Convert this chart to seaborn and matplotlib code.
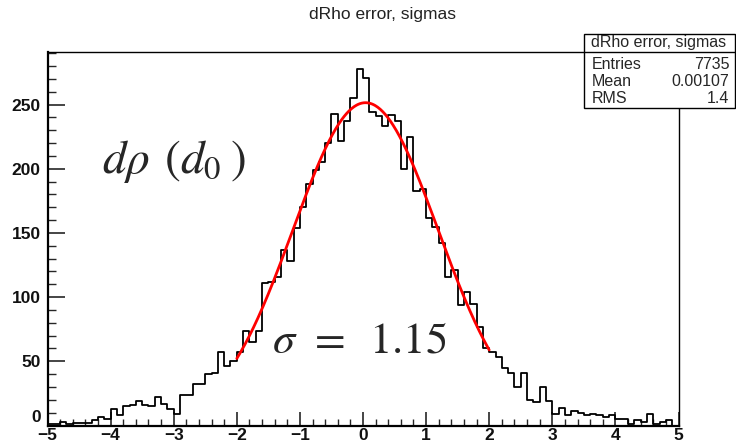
import numpy as np
import pandas as pd
import matplotlib
matplotlib.use("Agg")
import matplotlib.pyplot as plt
import seaborn as sns
from matplotlib.patches import Rectangle
from matplotlib.lines import Line2D
from matplotlib.ticker import MultipleLocator

# ---- data ----
bin_lo = -5.0
bin_hi = 5.0
bin_width = 0.1
counts = [
    1, 1, 3, 1, 2, 2, 2, 4, 7, 5,
    13, 8, 15, 16, 19, 16, 15, 22, 17, 13,
    9, 24, 24, 32, 32, 40, 41, 57, 46, 50,
    57, 74, 65, 74, 111, 112, 116, 137, 128, 154,
    170, 188, 199, 205, 220, 243, 222, 237, 255, 278,
    271, 244, 241, 233, 242, 237, 200, 225, 183, 184,
    162, 155, 142, 116, 121, 94, 104, 95, 77, 60,
    57, 53, 45, 41, 30, 41, 20, 18, 30, 19,
    9, 14, 8, 11, 10, 8, 9, 8, 7, 8,
    5, 5, 1, 4, 3, 9, 1, 3, 4, 0,
]
# Gaussian fit shown in red (fit range -2..2)
fit_amp = 251.5
fit_mean = 0.04
fit_sigma = 1.15
fit_range = (-2.0, 2.0)

title = "dRho error, sigmas"
stats_labels = ["Entries", "Mean", "RMS"]
stats_values = ["7735", "0.00107", "1.4"]
x_ticks = [-5, -4, -3, -2, -1, 0, 1, 2, 3, 4, 5]
y_ticks = [0, 50, 100, 150, 200, 250]

# ---- build table ----
n_bins = len(counts)
centers = bin_lo + bin_width * (np.arange(n_bins) + 0.5)
df = pd.DataFrame({"x": centers, "n": np.asarray(counts, dtype=float)})
xs = np.linspace(fit_range[0], fit_range[1], 300)
fit_df = pd.DataFrame({"x": xs,
                       "y": fit_amp * np.exp(-0.5 * ((xs - fit_mean) / fit_sigma) ** 2)})

sns.set_style("white")
plt.rcParams["font.family"] = ["Liberation Sans", "DejaVu Sans"]
plt.rcParams["mathtext.fontset"] = "stix"

W, H = 736, 446
fig = plt.figure(figsize=(W / 100, H / 100), dpi=100)
fig.patch.set_facecolor("white")
ax_l, ax_r, ax_t, ax_b = 47.5, 678.5, 52, 425.5
ax = fig.add_axes([ax_l / W, 1 - ax_b / H, (ax_r - ax_l) / W, (ax_b - ax_t) / H])

sns.histplot(data=df, x="x", weights="n", binwidth=bin_width, binrange=(bin_lo, bin_hi),
             element="step", fill=False, color="black", linewidth=1.3, ax=ax)
sns.lineplot(data=fit_df, x="x", y="y", color="#ff0000", linewidth=2.0, ax=ax)

ax.set_xlim(-5, 5)
ax.set_ylim(0, 291)
ax.set_xlabel("")
ax.set_ylabel("")
ax.set_xticks(x_ticks)
ax.set_yticks(y_ticks)
ax.set_xticklabels([("\u2212%d" % -t if t < 0 else "%d" % t) for t in x_ticks])
ax.set_yticklabels(["%d" % t for t in y_ticks])
ax.xaxis.set_minor_locator(MultipleLocator(0.2))
ax.yaxis.set_minor_locator(MultipleLocator(10))
ax.tick_params(axis="x", which="major", direction="in", length=10, width=1.2,
               labelsize=12.5, pad=2, bottom=True, top=False)
ax.tick_params(axis="x", which="minor", direction="in", length=5, width=1.0,
               bottom=True, top=False)
ax.tick_params(axis="y", which="major", direction="in", length=12, width=1.2,
               labelsize=12.5, pad=5, left=True, right=False)
ax.tick_params(axis="y", which="minor", direction="in", length=6, width=1.0,
               left=True, right=False)
for lab in ax.get_xticklabels() + ax.get_yticklabels():
    lab.set_fontweight("bold")
    lab.set_color("#111111")
# ROOT lifts the "0" label of the y axis above the x labels
ax.get_yticklabels()[0].set_verticalalignment("bottom")

for s in ["left", "bottom"]:
    ax.spines[s].set_linewidth(1.6)
    ax.spines[s].set_color("black")
for s in ["top", "right"]:
    ax.spines[s].set_linewidth(1.0)
    ax.spines[s].set_color("black")

ax.text(-4.13, 197, r"$d\rho\;\,(d_0\:)$", fontsize=34, ha="left", va="baseline")
ax.text(-1.44, 57, r"$\sigma\;\,=\;\;1.15$", fontsize=32, ha="left", va="baseline")

fig.text(383 / W, 1 - 14 / H, title, ha="center", va="center", fontsize=12.5, color="#222222")

# stats box
bx0, bx1, by0, by1, bdiv = 583.5, 734.5, 34, 108, 51.5
fig.patches.append(Rectangle((bx0 / W, 1 - by1 / H), (bx1 - bx0) / W, (by1 - by0) / H,
                             transform=fig.transFigure, facecolor="white",
                             edgecolor="black", linewidth=1.0, zorder=5))
fig.lines.append(Line2D([bx0 / W, bx1 / W], [1 - bdiv / H, 1 - bdiv / H],
                        transform=fig.transFigure, color="black", linewidth=1.0, zorder=6))
fig.text((bx0 + bx1) / 2 / W, 1 - 42.5 / H, title, ha="center", va="center",
         fontsize=11.5, zorder=7)
for i, (lab, val) in enumerate(zip(stats_labels, stats_values)):
    yy = 1 - (64.5 + 17 * i) / H
    fig.text((bx0 + 8) / W, yy, lab, ha="left", va="center", fontsize=11.5, zorder=7)
    fig.text((bx1 - 5) / W, yy, val, ha="right", va="center", fontsize=11.5, zorder=7)

fig.savefig("out.png", dpi=100)
